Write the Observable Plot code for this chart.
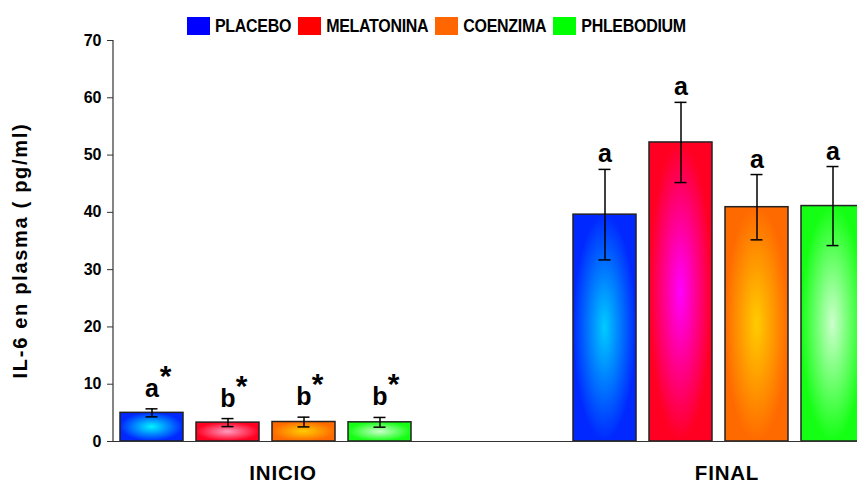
<!DOCTYPE html>
<html>
<head>
<meta charset="utf-8">
<script src="https://cdn.jsdelivr.net/npm/d3@7"></script>
<script src="https://cdn.jsdelivr.net/npm/@observablehq/plot@0.6"></script>
<style>
  html, body { margin: 0; padding: 0; background: white; overflow: hidden; width: 857px; height: 484px; }
  body { position: relative; font-family: "Liberation Sans", Arial, sans-serif; }
  #chart { position: absolute; top: 30px; left: 0; width: 871px; }
  #chart svg { max-width: none !important; }
  #legend { position: absolute; top: 17px; left: 187px; display: flex; align-items: center; z-index: 2;
            font-weight: bold; font-size: 16px; letter-spacing: -0.3px; line-height: 18px; color: #000; }
  #legend .sw { width: 23px; height: 18px; margin-right: 5px; }
  #legend .lab { margin-right: 7px; display: inline-block; transform: scaleY(1.12); }
</style>
</head>
<body>
<div id="legend"></div>
<div id="chart"></div>
<script>
// ---- data ----
const groups = ["INICIO", "FINAL"];
const treatments = ["PLACEBO", "MELATONINA", "COENZIMA", "PHLEBODIUM"];
const inicioMean = [5.0, 3.3, 3.4, 3.35];
const inicioSE = [0.7, 0.7, 0.85, 0.85];
const finalMean = [39.6, 52.2, 40.9, 41.1];
const finalSE = [7.9, 7.0, 5.7, 6.9];
const inicioLetters = ["a", "b", "b", "b"];
const finalLetters = ["a", "a", "a", "a"];
const inicioStars = ["*", "*", "*", "*"];
const finalStars = ["", "", "", ""];
const yTicks = [0, 10, 20, 30, 40, 50, 60, 70];
const yLabel = "IL-6 en plasma ( pg/ml)";

// ---- colours ----
const legendColors = ["#0000FF", "#FF0000", "#FF6600", "#00FF00"];
const edgeColors = ["#0028FF", "#FF0022", "#FF6A00", "#14FF14"];
const centerColors = {
  INICIO: ["#00F4FF", "#FF9CC0", "#FFCC00", "#CCFFCC"],
  FINAL: ["#00CCFF", "#FF00FF", "#FFCC00", "#CCFFCC"]
};

const means = {INICIO: inicioMean, FINAL: finalMean};
const ses = {INICIO: inicioSE, FINAL: finalSE};
const letters = {INICIO: inicioLetters, FINAL: finalLetters};
const stars = {INICIO: inicioStars, FINAL: finalStars};

const rows = groups.flatMap(g => treatments.map((t, i) => ({
  group: g, treatment: t, idx: i,
  mean: means[g][i], se: ses[g][i],
  lo: means[g][i] - ses[g][i], hi: means[g][i] + ses[g][i],
  letter: letters[g][i], star: stars[g][i],
  fill: `url(#grad-${g}-${i})`
})));
const rowsI = rows.filter(d => d.group === "INICIO");
const rowsF = rows.filter(d => d.group === "FINAL");

// ---- legend ----
const legend = document.getElementById("legend");
treatments.forEach((t, i) => {
  const sw = document.createElement("div");
  sw.className = "sw"; sw.style.background = legendColors[i];
  const lab = document.createElement("span");
  lab.className = "lab"; lab.textContent = t;
  legend.appendChild(sw); legend.appendChild(lab);
});

// ---- chart ----
const letterOpts = {fx: "group", x: "treatment", y: "hi", text: "letter", lineAnchor: "bottom", fontSize: 25, fontWeight: "bold"};
const starOpts = {fx: "group", x: "treatment", y: "hi", text: "star", lineAnchor: "bottom", fontSize: 30, fontWeight: "bold", dx: 13.5};

const chart = Plot.plot({
  width: 871,
  height: 454,
  marginLeft: 113,
  marginRight: 0,
  marginTop: 10,
  marginBottom: 43,
  style: {fontFamily: "'Liberation Sans', Arial, sans-serif", fontWeight: "bold", background: "white", overflow: "visible", color: "black", maxWidth: "none"},
  fx: {domain: groups, paddingInner: 0.327, paddingOuter: 0, axis: null, label: null},
  x: {domain: treatments, paddingInner: 0.171, paddingOuter: 0.092, axis: null},
  y: {domain: [0, 70], axis: null},
  color: {type: "identity"},
  marks: [
    Plot.barY(rows, {fx: "group", x: "treatment", y: "mean", fill: "fill", stroke: "#222", strokeWidth: 1.5}),
    Plot.ruleX(rows, {fx: "group", x: "treatment", y1: "lo", y2: "hi", stroke: "black", strokeWidth: 1.5}),
    Plot.tickY(rows, {fx: "group", x: "treatment", y: "hi", stroke: "black", strokeWidth: 1.5, insetLeft: 25.5, insetRight: 25.5}),
    Plot.tickY(rows, {fx: "group", x: "treatment", y: "lo", stroke: "black", strokeWidth: 1.5, insetLeft: 25.5, insetRight: 25.5}),
    Plot.ruleY([0], {stroke: "#333", strokeWidth: 1.2, insetLeft: -6, insetRight: -160}),
    Plot.text(rowsI, {...letterOpts, dy: -12}),
    Plot.text(rowsF, {...letterOpts, dy: -7}),
    Plot.text(rowsI, {...starOpts, dy: -23}),
    Plot.axisY({ticks: yTicks, tickSize: 6, tickPadding: 6, fontSize: 16, fontWeight: "bold", label: null, stroke: "#333"}),
    Plot.text([{group: "INICIO"}], {fx: "group", text: () => yLabel, frameAnchor: "left", textAnchor: "middle", lineAnchor: "middle", rotate: -90, dx: -93, dy: 9.5, fontSize: 20, fontWeight: "bold"}),
    Plot.text([{group: "INICIO"}], {fx: "group", text: "group", frameAnchor: "bottom", lineAnchor: "bottom", dx: 17, dy: 38.5, fontSize: 20.5, fontWeight: "bold"}),
    Plot.text([{group: "FINAL"}], {fx: "group", text: "group", frameAnchor: "bottom", lineAnchor: "bottom", dx: 8, dy: 38.5, fontSize: 20.5, fontWeight: "bold"})
  ]
});

const svgEl = chart.tagName.toLowerCase() === "svg" ? chart : chart.querySelector("svg");
const svg = d3.select(svgEl);
svg.style("max-width", "none");

// gradient definitions for the bars
const defs = svg.insert("defs", ":first-child");
groups.forEach(g => treatments.forEach((t, i) => {
  const rg = defs.append("radialGradient").attr("id", `grad-${g}-${i}`)
    .attr("cx", "50%").attr("cy", "50%").attr("r", "50%");
  rg.append("stop").attr("offset", "0%").attr("stop-color", centerColors[g][i]);
  rg.append("stop").attr("offset", "100%").attr("stop-color", edgeColors[i]);
}));

// letter spacing on the stretched-looking labels
svg.selectAll("text").filter(function () { return this.textContent === yLabel; }).style("letter-spacing", "1.7px");
svg.selectAll("text").filter(function () { return groups.includes(this.textContent); }).style("letter-spacing", "0.8px");

// y-axis domain line, drawn with the plot's own y scale
const ys = chart.scale("y");
svg.append("line")
  .attr("x1", 113).attr("x2", 113)
  .attr("y1", ys.apply(70)).attr("y2", ys.apply(0))
  .attr("stroke", "#333").attr("stroke-width", 1.2);

document.getElementById("chart").appendChild(chart);
</script>
</body>
</html>
